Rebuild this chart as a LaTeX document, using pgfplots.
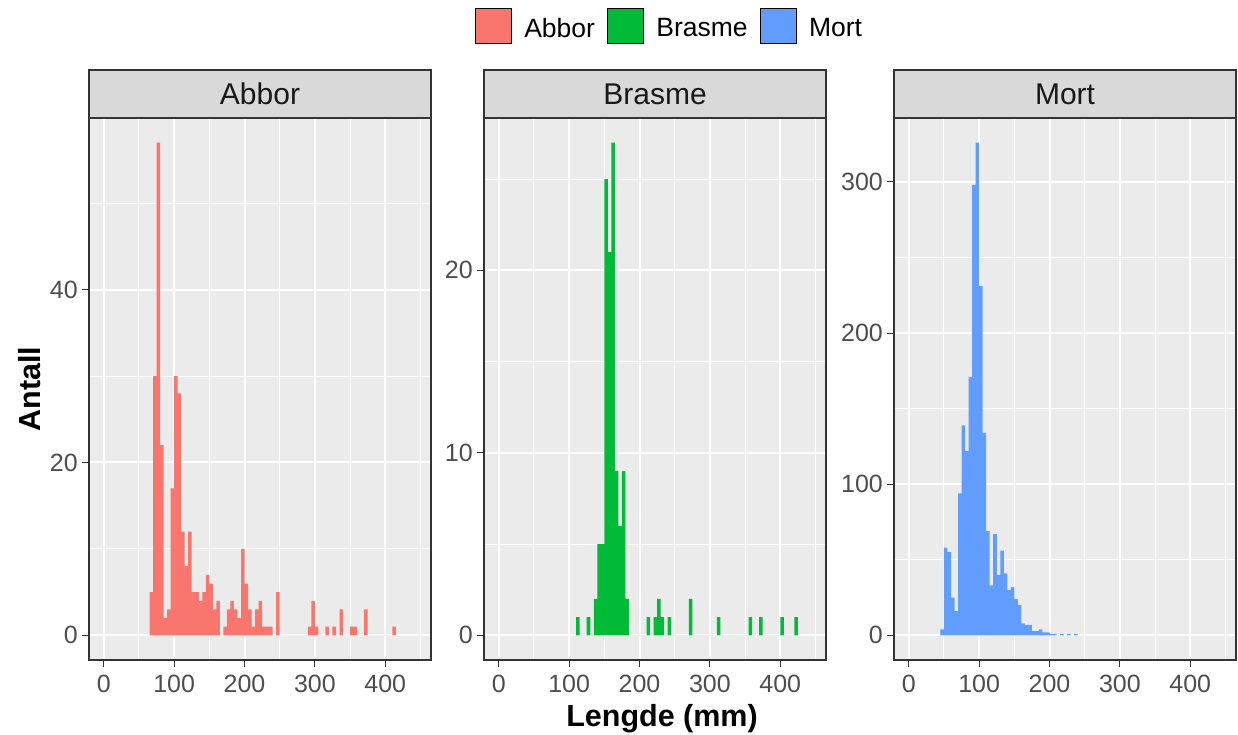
\documentclass[border=0pt]{standalone}
\usepackage{pgfplots}
\pgfplotsset{compat=1.18}
\usepackage{fontspec}
\setmainfont{Liberation Sans}
\definecolor{cA}{HTML}{F8766D}
\definecolor{cB}{HTML}{00BA38}
\definecolor{cM}{HTML}{619CFF}
\definecolor{panelbg}{HTML}{EBEBEB}
\definecolor{stripbg}{HTML}{D9D9D9}
\definecolor{border}{HTML}{333333}
\definecolor{ticktext}{HTML}{4D4D4D}
\pgfplotsset{
  panel/.style={
    scale only axis, width=342pt, height=542pt, anchor=south west,
    axis background/.style={fill=panelbg},
    xmin=-21, xmax=465,
    xtick={0,100,200,300,400},
    minor xtick={50,150,250,350,450},
    grid=both,
    major grid style={white, line width=2pt},
    minor grid style={white, line width=1pt},
    axis line style={border, line width=1.1pt},
    tick style={border, line width=1.1pt},
    tick align=outside, tick pos=left,
    major tick length=7pt, minor tick length=0pt,
    /pgf/number format/assume math mode=true,
    tick label style={font=\fontsize{25}{30}\selectfont, text=ticktext, inner sep=0pt},
    xticklabel style={yshift=-8pt},
    yticklabel style={xshift=-4pt},
    scaled ticks=false,
  }
}
\begin{document}
\begin{tikzpicture}
\useasboundingbox (0pt,0pt) rectangle (1238pt,734pt);
% Abbor
\begin{axis}[panel, at={(89pt,74pt)},
  ymin=-2.85, ymax=59.85, ytick={0,20,40}, minor ytick={10,30,50},
  ylabel={Antall},
  ylabel style={at={(axis description cs:-0.1725,0.5)}, anchor=center,
    font=\fontsize{30.5}{36}\selectfont\bfseries, text=black, inner sep=0pt},
  legend columns=3,
  legend style={at={(axis description cs:1.6944,1.1707)}, anchor=center, draw=none, fill=none,
    font=\fontsize{26.5}{30}\selectfont, nodes={inner sep=0pt},
    /tikz/every odd column/.style={column sep=13pt},
    /tikz/every even column/.style={column sep=12pt}},
  legend image code/.code={\fill[#1] (0pt,-14.5pt) rectangle (36pt,20.5pt);},
]
\addlegendimage{fill=cA}
\addlegendimage{fill=cB}
\addlegendimage{fill=cM}
\legend{Abbor,Brasme,Mort}
\addplot[ybar interval, fill=cA, draw=none, forget plot] coordinates {
(65,5) (70,30) (75,57) (80,22) (85,2) (90,3) (95,17) (100,30) (105,28) (110,12)
(115,8) (120,12) (125,5) (130,5) (135,4) (140,5) (145,7) (150,6) (155,3) (160,4)
(165,0) (170,1) (175,3) (180,4) (185,3) (190,2) (195,10) (200,6) (205,3) (210,1)
(215,3) (220,4) (225,1) (230,1) (235,1) (240,0) (245,5) (250,0) (255,0) (260,0)
(265,0) (270,0) (275,0) (280,0) (285,0) (290,1) (295,4) (300,1) (305,0) (310,0)
(315,1) (320,0) (325,1) (330,0) (335,3) (340,0) (345,0) (350,1) (355,1) (360,0)
(365,0) (370,3) (375,0) (380,0) (385,0) (390,0) (395,0) (400,0) (405,0) (410,1)
(415,0)
};
\end{axis}
% Brasme
\begin{axis}[panel, at={(484pt,74pt)},
  ymin=-1.35, ymax=28.35, ytick={0,10,20}, minor ytick={5,15,25},
  xlabel={Lengde (mm)},
  xlabel style={at={(axis description cs:0.5205,-0.1218)}, anchor=base,
    font=\fontsize{30.5}{36}\selectfont\bfseries, text=black, inner sep=0pt},
]
\addplot[ybar interval, fill=cB, draw=none] coordinates {
(110,1) (115,0) (120,0) (125,1) (130,0) (135,2) (140,5) (145,5) (150,25) (155,21)
(160,27) (165,9) (170,6) (175,9) (180,2) (185,0) (190,0) (195,0) (200,0) (205,0)
(210,1) (215,0) (220,1) (225,2) (230,1) (235,0) (240,1) (245,0) (250,0) (255,0)
(260,0) (265,0) (270,2) (275,0) (280,0) (285,0) (290,0) (295,0) (300,0) (305,0)
(310,1) (315,0) (320,0) (325,0) (330,0) (335,0) (340,0) (345,0) (350,0) (355,1)
(360,0) (365,0) (370,1) (375,0) (380,0) (385,0) (390,0) (395,0) (400,1) (405,0)
(410,0) (415,0) (420,1) (425,0)
};
\end{axis}
% Mort
\begin{axis}[panel, at={(894pt,74pt)},
  ymin=-16.3, ymax=342.3, ytick={0,100,200,300}, minor ytick={50,150,250},
]
\addplot[ybar interval, fill=cM, draw=none] coordinates {
(45,4) (50,58) (55,55) (60,25) (65,16) (70,94) (75,139) (80,122) (85,171) (90,298)
(95,326) (100,231) (105,134) (110,69) (115,33) (120,67) (125,40) (130,56) (135,41) (140,30)
(145,32) (150,24) (155,20) (160,8) (165,7) (170,7) (175,3) (180,3) (185,4) (190,2)
(195,2) (200,1) (205,1) (210,0) (215,1) (220,0) (225,1) (230,0) (235,1) (240,0)
};
\end{axis}
% facet strips
\foreach \xl/\xr/\xc/\lab in {89/431/260/Abbor, 484/826/655/Brasme, 894/1236/1065/Mort}{
  \draw[border, line width=1.1pt, fill=stripbg] (\xl pt,616pt) rectangle (\xr pt,664pt);
  \node[text=black!90, font=\fontsize{30}{36}\selectfont, inner sep=0pt] at (\xc pt,640pt) {\lab};
}
\end{tikzpicture}
\end{document}
